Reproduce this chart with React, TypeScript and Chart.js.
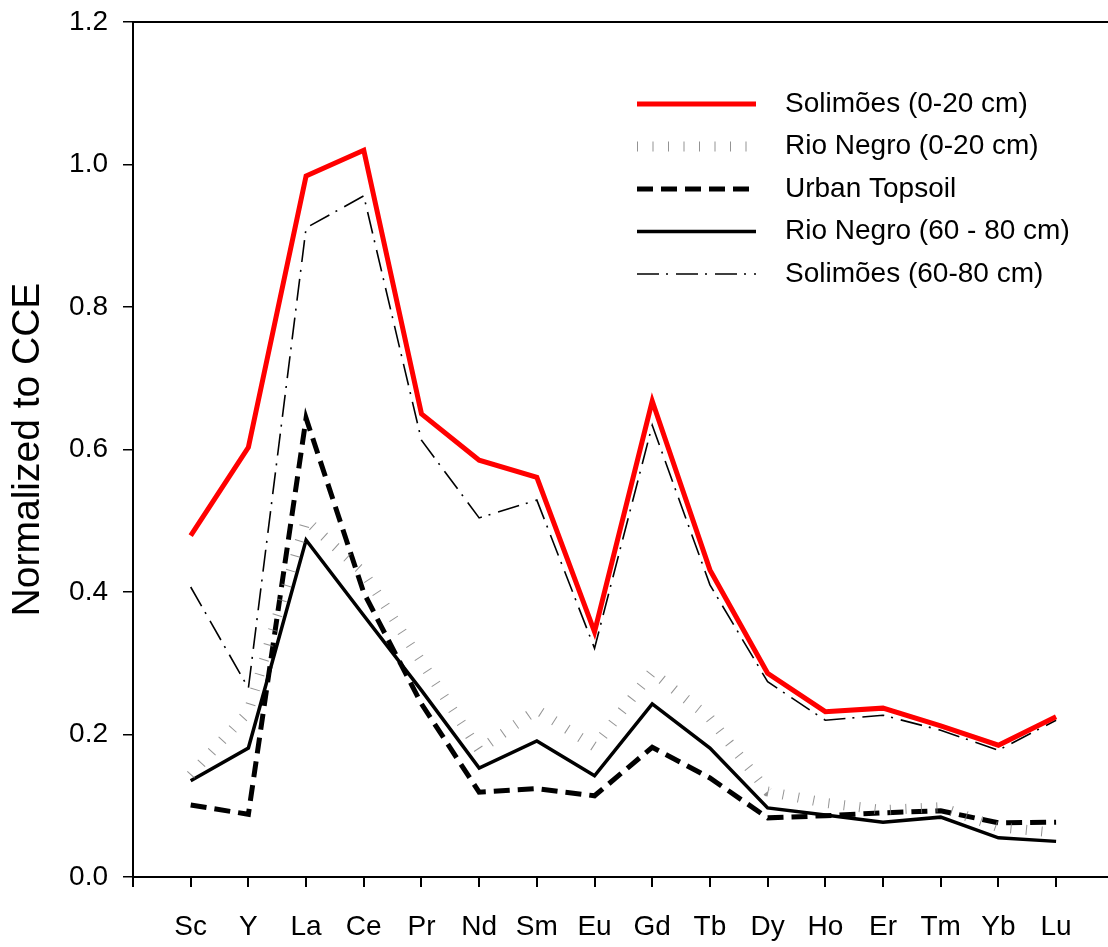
import React, { useEffect, useRef } from "react";
import { Chart, registerables } from "chart.js";

Chart.register(...registerables);

const elements = ["Sc", "Y", "La", "Ce", "Pr", "Nd", "Sm", "Eu", "Gd", "Tb", "Dy", "Ho", "Er", "Tm", "Yb", "Lu"];

const solimoesTop = [0.479, 0.603, 0.984, 1.02, 0.65, 0.585, 0.561, 0.344, 0.668, 0.431, 0.286, 0.232, 0.237, 0.212, 0.185, 0.225];
const rioNegroTop = [0.143, 0.232, 0.501, 0.427, 0.302, 0.178, 0.235, 0.183, 0.288, 0.223, 0.12, 0.104, 0.094, 0.098, 0.07, 0.062];
const urbanTopsoil = [0.101, 0.088, 0.644, 0.399, 0.243, 0.119, 0.124, 0.114, 0.182, 0.139, 0.083, 0.086, 0.09, 0.093, 0.076, 0.077];
const rioNegroDeep = [0.135, 0.181, 0.473, 0.367, 0.262, 0.153, 0.191, 0.142, 0.243, 0.181, 0.097, 0.087, 0.077, 0.084, 0.055, 0.05];
const solimoesDeep = [0.407, 0.265, 0.911, 0.956, 0.613, 0.504, 0.529, 0.321, 0.634, 0.41, 0.274, 0.22, 0.227, 0.206, 0.178, 0.22];

const seriesLabels = ["Solimões (0-20 cm)", "Rio Negro (0-20 cm)", "Urban Topsoil", "Rio Negro (60 - 80 cm)", "Solimões (60-80 cm)"];
const yTickValues = [0, 0.2, 0.4, 0.6, 0.8, 1.0, 1.2];
const yTitle = "Normalized to CCE";

const FONT = "'Liberation Sans', Arial, sans-serif";

const legendPlugin = {
  id: "insideLegend",
  afterDatasetsDraw(chart: any) {
    const ctx = chart.ctx;
    const x0 = 637, x1 = 756, xt = 785, top = 104, gap = 42.5;
    chart.data.datasets.forEach((ds: any, i: number) => {
      const y = top + i * gap;
      ctx.save();
      ctx.strokeStyle = ds.borderColor;
      ctx.lineWidth = ds.borderWidth;
      ctx.lineCap = "butt";
      ctx.setLineDash(ds.borderDash || []);
      ctx.beginPath();
      ctx.moveTo(x0, y);
      ctx.lineTo(x1, y);
      ctx.stroke();
      ctx.setLineDash([]);
      ctx.fillStyle = "#000";
      ctx.font = `28px ${FONT}`;
      ctx.textBaseline = "middle";
      ctx.textAlign = "left";
      ctx.fillText(ds.label, xt, y);
      ctx.restore();
    });
  },
};

export default function App() {
  const ref = useRef<HTMLCanvasElement>(null);
  useEffect(() => {
    if (!ref.current) return;
    const mk = (vals: number[]) => vals.map((v, i) => ({ x: i, y: v }));
    const chart = new Chart(ref.current, {
      type: "line",
      data: {
        datasets: [
          { label: seriesLabels[0], data: mk(solimoesTop), borderColor: "#ff0000", borderWidth: 5, pointRadius: 0, tension: 0 },
          { label: seriesLabels[1], data: mk(rioNegroTop), borderColor: "rgba(120,120,120,0.8)", borderWidth: 10, borderDash: [1, 14.5], pointRadius: 0, tension: 0 },
          { label: seriesLabels[2], data: mk(urbanTopsoil), borderColor: "#000", borderWidth: 5, borderDash: [16, 8], pointRadius: 0, tension: 0 },
          { label: seriesLabels[3], data: mk(rioNegroDeep), borderColor: "#000", borderWidth: 3.5, pointRadius: 0, tension: 0 },
          { label: seriesLabels[4], data: mk(solimoesDeep), borderColor: "#000", borderWidth: 1.6, borderDash: [22, 7, 2, 8], pointRadius: 0, tension: 0 },
        ] as any,
      },
      options: {
        animation: false,
        responsive: false,
        layout: { padding: { top: 22, left: 0, right: 0, bottom: 0 } },
        plugins: { legend: { display: false }, tooltip: { enabled: false } },
        scales: {
          x: {
            type: "linear",
            position: "bottom",
            min: -1,
            max: 15.9,
            afterBuildTicks: (axis: any) => {
              axis.ticks = [-1, ...elements.map((_, i) => i)].map((v) => ({ value: v }));
            },
            afterFit: (axis: any) => {
              axis.height = 70;
              axis.paddingLeft = 0;
              axis.paddingRight = 0;
            },
            ticks: {
              autoSkip: false,
              maxRotation: 0,
              padding: 23,
              color: "#000",
              font: { family: FONT, size: 28 },
              callback: (v: any) => (v >= 0 && v < elements.length ? elements[v] : ""),
            },
            grid: { drawOnChartArea: false, drawTicks: true, tickLength: 10, color: "#000", lineWidth: 2 },
            border: { display: true, color: "#000", width: 2 },
          },
          x2: {
            type: "linear",
            position: "top",
            min: -1,
            max: 15.9,
            afterFit: (axis: any) => {
              axis.height = 0;
              axis.paddingLeft = 0;
              axis.paddingRight = 0;
            },
            ticks: { display: false },
            grid: { display: false },
            border: { display: true, color: "#000", width: 2 },
          },
          y: {
            type: "linear",
            min: 0,
            max: 1.2,
            afterBuildTicks: (axis: any) => {
              axis.ticks = yTickValues.map((v) => ({ value: v }));
            },
            afterFit: (axis: any) => {
              axis.width = 133;
              axis.paddingTop = 0;
              axis.paddingBottom = 0;
            },
            ticks: {
              padding: 15,
              color: "#000",
              font: { family: FONT, size: 28 },
              callback: (v: any) => Number(v).toFixed(1),
            },
            grid: { drawOnChartArea: false, drawTicks: true, tickLength: 10, color: "#000", lineWidth: 1.5 },
            border: { display: true, color: "#000", width: 2 },
            title: {
              display: true,
              text: yTitle,
              color: "#000",
              font: { family: FONT, size: 39 },
              padding: { top: 5, bottom: 0 },
            },
          },
        },
      } as any,
      plugins: [legendPlugin],
    });
    return () => chart.destroy();
  }, []);
  return (
    <div style={{ position: "absolute", left: 0, top: 0, width: 1108, height: 947, background: "#fff" }}>
      <canvas ref={ref} width={1108} height={947} style={{ display: "block" }} />
    </div>
  );
}
